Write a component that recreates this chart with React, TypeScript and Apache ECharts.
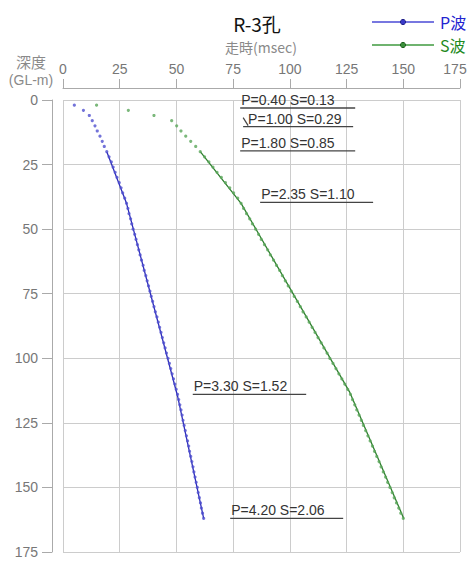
import React, { useEffect, useRef } from "react";
import * as echarts from "echarts";

// Depths (GL-m) of the measured points
const depths = [
  2, 4, 6, 8, 10, 12, 14, 16, 18, 20,
  22, 24, 26, 28, 30, 32, 34, 36, 38, 40,
  42, 44, 46, 48, 50, 52, 54, 56, 58, 60,
  62, 64, 66, 68, 70, 72, 74, 76, 78, 80,
  82, 84, 86, 88, 90, 92, 94, 96, 98, 100,
  102, 104, 106, 108, 110, 112, 114, 116, 118, 120,
  122, 124, 126, 128, 130, 132, 134, 136, 138, 140,
  142, 144, 146, 148, 150, 152, 154, 156, 158, 160,
  162,
];

// P-wave travel times (msec)
const pTimes = [
  5.0, 9.0, 11.6, 12.9, 14.1, 15.1, 16.3, 17.3, 18.2, 19.3,
  20.3, 21.3, 22.1, 23.0, 23.8, 24.8, 25.6, 26.3, 27.2, 28.0,
  28.6, 29.1, 29.8, 30.3, 30.9, 31.6, 32.2, 32.8, 33.4, 34.0,
  34.6, 35.3, 35.8, 36.5, 37.1, 37.7, 38.3, 38.9, 39.5, 40.1,
  40.7, 41.4, 42.0, 42.6, 43.2, 43.8, 44.4, 45.0, 45.6, 46.3,
  46.9, 47.5, 48.1, 48.7, 49.3, 49.9, 50.5, 51.0, 51.5, 52.0,
  52.5, 52.9, 53.4, 53.9, 54.4, 54.9, 55.4, 55.8, 56.3, 56.8,
  57.3, 57.7, 58.2, 58.7, 59.2, 59.6, 60.1, 60.6, 61.0, 61.5,
  62.0,
];

// S-wave travel times (msec)
const sTimes = [
  14.8, 28.8, 40.1, 47.9, 50.1, 52.0, 54.1, 56.3, 58.5, 60.5,
  62.4, 64.3, 66.1, 67.9, 69.8, 71.6, 73.5, 75.2, 77.0, 78.5,
  79.6, 80.9, 82.3, 83.5, 84.9, 86.2, 87.4, 88.8, 90.2, 91.4,
  92.8, 94.1, 95.5, 96.7, 98.0, 99.3, 100.6, 101.9, 103.3, 104.6,
  105.8, 107.2, 108.5, 109.8, 111.1, 112.4, 113.8, 115.0, 116.4, 117.6,
  119.0, 120.3, 121.6, 122.9, 124.2, 125.5, 126.7, 127.6, 128.6, 129.5,
  130.5, 131.5, 132.4, 133.4, 134.4, 135.4, 136.4, 137.3, 138.3, 139.3,
  140.2, 141.2, 142.2, 143.1, 144.1, 145.1, 146.0, 147.0, 148.0, 148.9,
  150.0,
];

// Fitted travel-time lines (breakpoints)
const pLineDepths = [20, 40, 115, 162];
const pLineTimes = [19.3, 28.0, 50.6, 62.0];
const sLineDepths = [20, 40, 113, 162];
const sLineTimes = [60.5, 78.5, 126.3, 150.2];

// Velocity annotations (km/s)
const annLabels = [
  "P=0.40 S=0.13",
  "P=1.00 S=0.29",
  "P=1.80 S=0.85",
  "P=2.35 S=1.10",
  "P=3.30 S=1.52",
  "P=4.20 S=2.06",
];
const annStart = [78.1, 79.4, 78.1, 86.9, 57.2, 73.7];
const annEnd = [128.8, 127.9, 128.8, 136.7, 107.2, 123.5];
const annDepth = [3.1, 10.3, 19.7, 39.6, 114, 162];
const annLeader = [0, 1, 0, 0, 0, 0];

const xMin = 0;
const xMax = 175;
const yMin = 0;
const yMax = 175;

const NUM = "'Liberation Sans', Arial, sans-serif";
const CJK = "'Noto Sans CJK JP', 'Noto Sans', sans-serif";

export default function App() {
  const ref = useRef<HTMLDivElement>(null);

  useEffect(() => {
    if (!ref.current) return;
    const chart = echarts.init(ref.current, null, { renderer: "svg" });

    const pPts = depths.map((d, i) => [pTimes[i], d]);
    const sPts = depths.map((d, i) => [sTimes[i], d]);
    const pLine = pLineDepths.map((d, i) => [pLineTimes[i], d]);
    const sLine = sLineDepths.map((d, i) => [sLineTimes[i], d]);
    const annData = annLabels.map((_, i) => [annStart[i], annEnd[i], annDepth[i], i]);

    const option: any = {
      animation: false,
      backgroundColor: "#ffffff",
      grid: {
        left: 63,
        right: 8,
        top: 100,
        bottom: 10,
        outerBoundsMode: "none",
      },
      xAxis: {
        type: "value",
        position: "top",
        min: xMin,
        max: xMax,
        interval: 25,
        offset: 12,
        axisLine: { show: true, onZero: false, lineStyle: { color: "#aaaaaa", width: 1 } },
        axisTick: { show: true, length: 9, lineStyle: { color: "#aaaaaa" } },
        axisLabel: {
          color: "#777777",
          fontSize: 14,
          fontFamily: NUM,
          margin: 12,
          formatter: (v: number) => (v === xMax ? "{e|" + v + "}" : String(v)),
          rich: {
            e: { color: "#777777", fontSize: 14, fontFamily: NUM, padding: [0, 10, 0, 0] },
          },
        },
        splitLine: { show: true, lineStyle: { color: "#cccccc", width: 1 } },
      },
      yAxis: {
        type: "value",
        inverse: true,
        min: yMin,
        max: yMax,
        interval: 25,
        offset: 11,
        axisLine: { show: true, onZero: false, lineStyle: { color: "#aaaaaa", width: 1 } },
        axisTick: { show: true, length: 10, lineStyle: { color: "#aaaaaa" } },
        axisLabel: { color: "#777777", fontSize: 14, fontFamily: NUM, margin: 14 },
        splitLine: { show: true, lineStyle: { color: "#cccccc", width: 1 } },
      },
      series: [
        {
          name: "P波線",
          type: "line",
          data: pLine,
          symbol: "none",
          lineStyle: { color: "#2c2cb8", width: 1.3 },
          z: 2,
        },
        {
          name: "S波線",
          type: "line",
          data: sLine,
          symbol: "none",
          lineStyle: { color: "#2f7f2f", width: 1.3 },
          z: 2,
        },
        {
          name: "P波",
          type: "scatter",
          data: pPts,
          symbol: "circle",
          symbolSize: 3.2,
          itemStyle: { color: "#5050d0" },
          z: 3,
        },
        {
          name: "S波",
          type: "scatter",
          data: sPts,
          symbol: "circle",
          symbolSize: 3.2,
          itemStyle: { color: "#5aa65a" },
          z: 3,
        },
        {
          name: "annotations",
          type: "custom",
          clip: false,
          data: annData,
          z: 4,
          renderItem: (params: any, api: any) => {
            const x1 = api.value(0);
            const x2 = api.value(1);
            const d = api.value(2);
            const idx = api.value(3);
            const p1 = api.coord([x1, d]);
            const p2 = api.coord([x2, d]);
            const children: any[] = [
              {
                type: "line",
                shape: { x1: p1[0], y1: p1[1], x2: p2[0], y2: p2[1] },
                style: { stroke: "#444444", lineWidth: 1.3 },
              },
              {
                type: "text",
                x: p1[0] + (annLeader[idx] ? 5 : 1),
                y: p1[1] - 1,
                style: {
                  text: annLabels[idx],
                  fill: "#333333",
                  fontSize: 14,
                  fontFamily: NUM,
                  textAlign: "left",
                  textVerticalAlign: "bottom",
                },
              },
            ];
            if (annLeader[idx]) {
              children.push({
                type: "line",
                shape: { x1: p1[0], y1: p1[1] - 9, x2: p1[0] + 5, y2: p1[1] - 1 },
                style: { stroke: "#444444", lineWidth: 1.2 },
              });
            }
            return { type: "group", children };
          },
        },
      ],
      graphic: [
        {
          type: "text",
          x: 257,
          y: 23,
          style: {
            text: "R-3孔",
            fill: "#111111",
            fontSize: 19,
            fontFamily: CJK,
            textAlign: "center",
            textVerticalAlign: "middle",
          },
        },
        {
          type: "text",
          x: 261,
          y: 47,
          style: {
            text: "走時(msec)",
            fill: "#8a8a8a",
            fontSize: 14,
            fontFamily: CJK,
            textAlign: "center",
            textVerticalAlign: "middle",
          },
        },
        {
          type: "text",
          x: 31,
          y: 61,
          style: {
            text: "深度",
            fill: "#8a8a8a",
            fontSize: 15,
            fontFamily: CJK,
            textAlign: "center",
            textVerticalAlign: "middle",
          },
        },
        {
          type: "text",
          x: 31,
          y: 80,
          style: {
            text: "(GL-m)",
            fill: "#8a8a8a",
            fontSize: 14,
            fontFamily: NUM,
            textAlign: "center",
            textVerticalAlign: "middle",
          },
        },
        // legend P
        {
          type: "line",
          shape: { x1: 372, y1: 22, x2: 434, y2: 22 },
          style: { stroke: "#4a4ad6", lineWidth: 1.5 },
        },
        {
          type: "circle",
          shape: { cx: 403, cy: 22, r: 2.6 },
          style: { fill: "#3a3ac8", stroke: "#22228a", lineWidth: 1 },
        },
        {
          type: "text",
          x: 440,
          y: 22,
          style: {
            text: "P波",
            fill: "#2323d0",
            fontSize: 16,
            fontFamily: CJK,
            textAlign: "left",
            textVerticalAlign: "middle",
          },
        },
        // legend S
        {
          type: "line",
          shape: { x1: 372, y1: 45, x2: 434, y2: 45 },
          style: { stroke: "#3f9a3f", lineWidth: 1.5 },
        },
        {
          type: "circle",
          shape: { cx: 403, cy: 45, r: 2.6 },
          style: { fill: "#3a8f3a", stroke: "#1f5f1f", lineWidth: 1 },
        },
        {
          type: "text",
          x: 440,
          y: 45,
          style: {
            text: "S波",
            fill: "#1f8a1f",
            fontSize: 16,
            fontFamily: CJK,
            textAlign: "left",
            textVerticalAlign: "middle",
          },
        },
      ],
    };

    chart.setOption(option);
    return () => {
      chart.dispose();
    };
  }, []);

  return (
    <div
      ref={ref}
      style={{ position: "fixed", left: 0, top: 0, width: 468, height: 562, background: "#fff" }}
    />
  );
}
